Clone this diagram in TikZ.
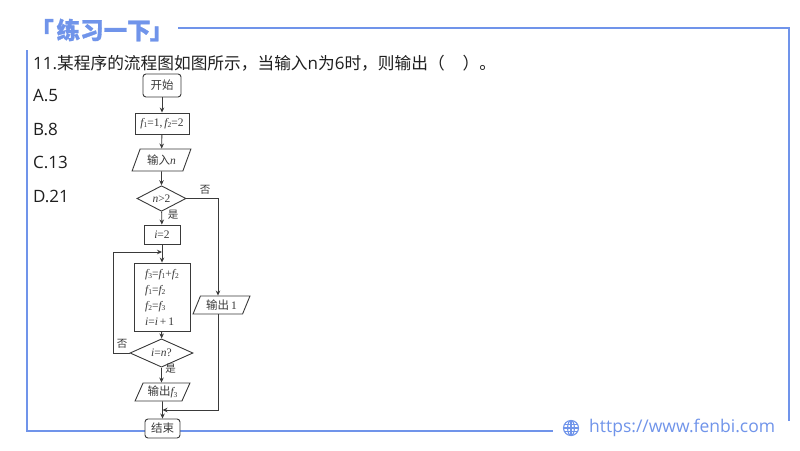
\documentclass[tikz,border=0pt]{standalone}
\usepackage{fontspec}
\usetikzlibrary{shapes.geometric,arrows.meta}
\newfontfamily\cjk{Noto Sans CJK SC}
\newfontfamily\titlefont[BoldFeatures={FakeBold=1.2}]{Noto Sans CJK SC}
\newfontfamily\uifont{Open Sans}
\newfontfamily\tmf{Liberation Serif}
\definecolor{fbblue}{HTML}{7094EA}
\definecolor{ink}{HTML}{3A3A3A}
\newcommand{\vv}[1]{{\tmf\itshape #1}}
\newcommand{\nn}[1]{{\tmf #1}}
\newcommand{\ff}[1]{{\tmf\itshape f}\raisebox{-1.6pt}{\tmf\fontsize{7.5}{8}\selectfont #1}}
\newcommand{\qc}[1]{{\cjk\fontsize{16.7}{20}\selectfont #1}}
\tikzset{
  frameline/.style={draw=fbblue,line width=1.6pt},
  flow/.style={draw=ink,line width=0.9pt,fill=white,inner sep=0pt,text=ink,font=\cjk\fontsize{11.5}{13}\selectfont},
  termbox/.style={flow,rectangle,rounded corners=3pt},
  procbox/.style={flow,rectangle},
  iobox/.style={flow,trapezium,trapezium left angle=63,trapezium right angle=117,trapezium stretches=true},
  testbox/.style={flow,diamond},
  conn/.style={draw=ink,line width=0.9pt},
  arr/.style={conn,-{Stealth[length=5pt,width=4.5pt]}},
  branch/.style={text=ink,inner sep=0pt,font=\cjk\fontsize{10.5}{12}\selectfont},
  qtext/.style={anchor=west,inner sep=0pt,text=black!88,font=\uifont\fontsize{17}{20}\selectfont},
}
\begin{document}
\begin{tikzpicture}[x=1pt,y=-1pt]
\useasboundingbox (0,0) rectangle (800,450);
\fill[white] (0,0) rectangle (800,450);
% frame
\coordinate (ftl) at (178,28);
\coordinate (ftr) at (789,28);
\coordinate (fbr) at (789,421);
\coordinate (fls) at (27,50);
\coordinate (fbl) at (27,431);
\coordinate (fbe) at (553,431);
\draw[frameline] (ftl) -- (ftr) -- (fbr);
\draw[frameline] (fls) -- (fbl) -- (fbe);
% title
\node[anchor=west,inner sep=0pt,text=fbblue,font=\titlefont\bfseries\fontsize{23.5}{28}\selectfont] (title) at (30,30) {「\hspace{3pt}练习一下\hspace{-1pt}」};
% footer
\begin{scope}[shift={(571,428)},draw=fbblue,line width=1.1pt]
\draw (0,0) circle (7.5);
\draw (0,0) ellipse (3.4 and 7.5);
\draw (-7.5,0) -- (7.5,0);
\draw (-6.6,-3.6) -- (6.6,-3.6);
\draw (-6.6,3.6) -- (6.6,3.6);
\draw (0,-7.5) -- (0,7.5);
\end{scope}
\node[anchor=west,inner sep=0pt,text=fbblue,font=\uifont\fontsize{17.5}{20}\selectfont] (url) at (589,428) {https://www.fenbi.com};
% question
\node[qtext] (q) at (33,63) {11.\qc{某程序的流程图如图所示，当输入}n\qc{为}6\qc{时，则输出（\hspace{18pt}）。}};
\node[qtext] (oa) at (33,96) {A.5};
\node[qtext] (ob) at (33,129) {B.8};
\node[qtext] (oc) at (33,162) {C.13};
\node[qtext] (od) at (33,196) {D.21};
% flowchart
\node[termbox,minimum width=38pt,minimum height=23pt] (start) at (162,85.5) {开始};
\node[procbox,minimum width=54pt,minimum height=21pt] (init) at (162,123.5) {\ff{1}\nn{=1,\,}\ff{2}\nn{=2}};
\node[iobox,minimum width=59pt,minimum height=22pt] (inp) at (161.5,160) {输入\vv{n}};
\node[testbox,minimum width=49pt,minimum height=24pt] (d1) at (161.5,198.5) {\vv{n}\nn{>2}};
\node[procbox,minimum width=36pt,minimum height=19pt] (i2) at (162,234.5) {\vv{i}\nn{=2}};
\node[procbox,minimum width=56pt,minimum height=68pt,align=left] (body) at (162,297) {\ff{3}\nn{=}\ff{1}\nn{+}\ff{2}\\[3pt]\ff{1}\nn{=}\ff{2}\\[3pt]\ff{2}\nn{=}\ff{3}\\[3pt]\vv{i}\nn{=}\vv{i}\nn{\,+\,1}};
\node[testbox,minimum width=63pt,minimum height=22pt] (d2) at (161.5,353) {\vv{i}\nn{=}\vv{n}\nn{?}};
\node[iobox,minimum width=55pt,minimum height=18pt] (outf) at (162.5,392) {输出\ff{3}};
\node[iobox,minimum width=57pt,minimum height=18pt] (outo) at (221.5,305) {输出\nn{\,1}};
\node[termbox,minimum width=35pt,minimum height=19pt] (stop) at (162.5,428.5) {结束};
% helper points
\coordinate (lp) at (113,252);
\coordinate (jt) at (162,252);
\coordinate (rt) at (218,198.5);
\coordinate (rb) at (218,410);
\coordinate (jb) at (162.5,410);
% connectors
\draw[arr] (start) -- (init);
\draw[arr] (init) -- (inp);
\draw[arr] (inp) -- (d1);
\draw[arr] (d1) -- (i2);
\draw[arr] (i2) -- (body);
\draw[arr] (body) -- (d2);
\draw[arr] (d2.south) -- (outf.north-|d2.south);
\draw[arr] (outf) -- (stop);
\draw[arr] (d2.west) -| (lp) -- (jt);
\draw[arr] (d1.east) -- (rt) -- (rt|-outo.north);
\draw[arr] (rt|-outo.south) -- (rb) -- (jb);
% labels
\node[branch] (no1) at (205,190) {否};
\node[branch] (yes1) at (173,215) {是};
\node[branch] (no2) at (122,344) {否};
\node[branch] (yes2) at (170.5,369) {是};
\end{tikzpicture}
\end{document}
